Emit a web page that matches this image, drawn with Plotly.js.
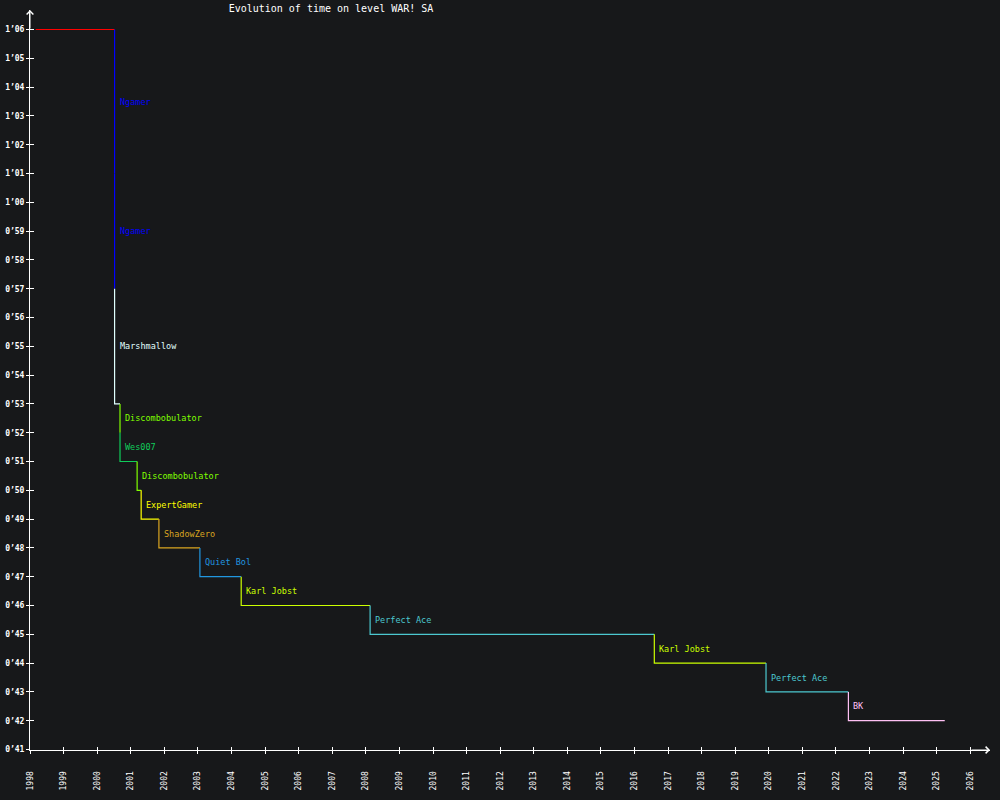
<!DOCTYPE html>
<html>
<head>
<meta charset="utf-8">
<script src="https://cdn.plot.ly/plotly-3.0.1.min.js"></script>
<style>
  html, body { margin: 0; padding: 0; background: #17181a; }
  #chart { width: 1000px; height: 800px; }
</style>
</head>
<body>
<div id="chart"></div>
<script>
// record holders, in order (first record has no label)
const holders = ['', 'Ngamer', 'Ngamer', 'Marshmallow', 'Discombobulator', 'Wes007',
  'Discombobulator', 'ExpertGamer', 'ShadowZero', 'Quiet Bol', 'Karl Jobst',
  'Perfect Ace', 'Karl Jobst', 'Perfect Ace', 'BK'];
const recordDates = ['1998-03-04', '2000-07-09', '2000-07-09', '2000-07-09', '2000-09-06',
  '2000-09-06', '2001-03-11', '2001-04-24', '2001-11-03', '2003-01-23', '2004-04-16',
  '2008-02-17', '2016-08-04', '2019-12-02', '2022-05-16'];
// times in seconds
const recordTimes = [66, 61, 57, 53, 52, 51, 50, 49, 48, 47, 46, 45, 44, 43, 42];
const holderColors = ['#ff0000', '#0000ff', '#0000ff', '#e0ffff', '#80ff00', '#10cc5a',
  '#80ff00', '#ffff00', '#daa520', '#2196e0', '#ccff00', '#4cc8d0', '#ccff00', '#4cc8d0', '#ffc0f4'];
const lastDate = '2025-03-29';
const tickSeconds = [41, 42, 43, 44, 45, 46, 47, 48, 49, 50, 51, 52, 53, 54, 55, 56, 57, 58, 59,
  60, 61, 62, 63, 64, 65, 66];

const fmt = s => Math.floor(s / 60) + '’' + String(s % 60).padStart(2, '0');

const traces = [];
const labels = [];
recordTimes.forEach((t, i) => {
  const prev = i === 0 ? t : recordTimes[i - 1];
  const next = i < recordTimes.length - 1 ? recordDates[i + 1] : lastDate;
  traces.push({
    x: [recordDates[i], next],
    y: [prev, t],
    mode: 'lines',
    line: { shape: 'vh', color: holderColors[i], width: 1.2 },
    hoverinfo: 'skip'
  });
  if (holders[i]) {
    labels.push({
      x: recordDates[i], y: (prev + t) / 2, xref: 'x', yref: 'y',
      text: holders[i], showarrow: false, xanchor: 'left', xshift: 3,
      font: { family: 'DejaVu Sans Mono', size: 8.5, color: holderColors[i] }
    });
  }
});

const xRange = ['1998-01-01', '2026-08-03'];
// half-pixel shift so whole seconds fall on crisp pixel rows
const yRange = [41 - 0.5 / 28.8, 41 + 739.5 / 28.8];
const axisFont = { family: 'DejaVu Sans Mono', size: 8, color: '#ffffff' };

// invisible trace so the inside-tick overlay axes are drawn
traces.push({
  x: [xRange[0]], y: [50], xaxis: 'x2', yaxis: 'y2', mode: 'markers',
  marker: { opacity: 0 }, hoverinfo: 'skip'
});

// axis arrows
labels.push({
  xref: 'paper', yref: 'paper', x: 0, y: 1, ax: 0, ay: 20, text: '',
  showarrow: true, arrowhead: 4, arrowsize: 1.3, arrowwidth: 1, arrowcolor: '#ffffff', standoff: 0
});
labels.push({
  xref: 'paper', yref: 'paper', x: 1, y: 0, ax: -20, ay: 0, text: '',
  showarrow: true, arrowhead: 4, arrowsize: 1.3, arrowwidth: 1, arrowcolor: '#ffffff', standoff: 0
});

const layout = {
  width: 1000, height: 800,
  margin: { l: 30, r: 10, t: 10, b: 50 },
  paper_bgcolor: '#17181a',
  plot_bgcolor: '#17181a',
  showlegend: false,
  title: {
    text: 'Evolution of time on level WAR! SA',
    font: { family: 'DejaVu Sans Mono', size: 10, color: '#ffffff' },
    x: 0.331, xref: 'container', xanchor: 'center',
    y: 1 - 8 / 800, yref: 'container', yanchor: 'middle'
  },
  xaxis: {
    type: 'date', range: xRange, dtick: 'M12', tick0: '1998-01-01', tickformat: '%Y',
    tickangle: -90, tickfont: axisFont, ticks: 'outside', ticklen: 3, tickcolor: '#ffffff',
    ticklabelstandoff: 14, showgrid: false, zeroline: false, showline: true,
    linecolor: '#ffffff', linewidth: 1, automargin: false, fixedrange: true
  },
  xaxis2: {
    type: 'date', range: xRange, dtick: 'M12', tick0: '1998-01-01', overlaying: 'x',
    side: 'bottom', ticks: 'inside', ticklen: 3, tickcolor: '#ffffff', showticklabels: false,
    showgrid: false, zeroline: false, showline: false
  },
  yaxis: {
    range: yRange, tickvals: tickSeconds, ticktext: tickSeconds.map(fmt),
    tickfont: Object.assign({ weight: 'bold' }, axisFont), ticks: 'outside', ticklen: 3,
    tickcolor: '#ffffff', showgrid: false, zeroline: false, showline: true,
    linecolor: '#ffffff', linewidth: 1, automargin: false, fixedrange: true
  },
  yaxis2: {
    range: yRange, tickvals: tickSeconds, overlaying: 'y', side: 'left', ticks: 'inside',
    ticklen: 4, tickcolor: '#ffffff', showticklabels: false, showgrid: false,
    zeroline: false, showline: false
  },
  annotations: labels
};

Plotly.newPlot('chart', traces, layout, { displayModeBar: false, staticPlot: true });
</script>
</body>
</html>
